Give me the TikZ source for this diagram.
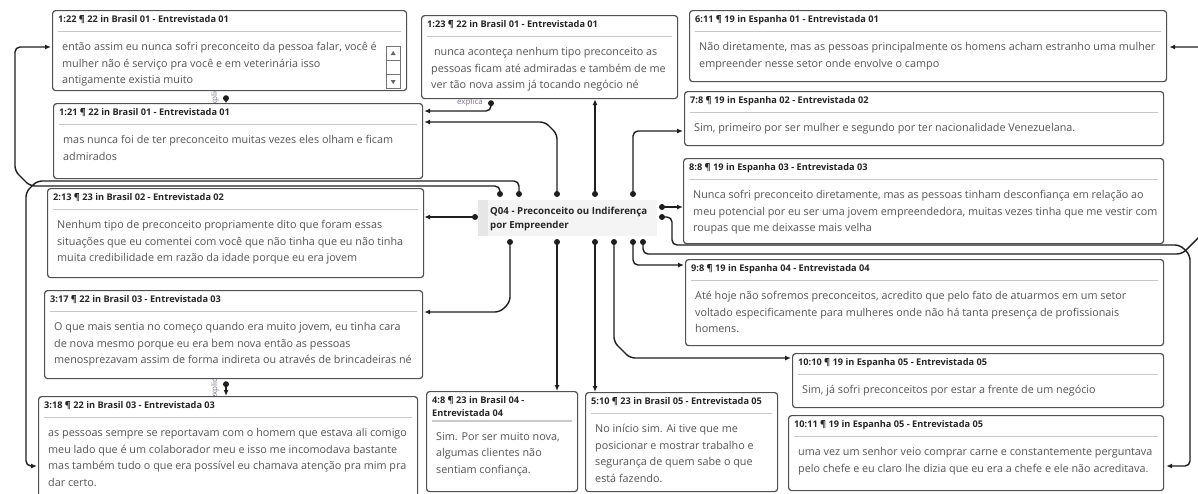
\documentclass[tikz,border=0pt]{standalone}
\usepackage{fontspec}
\setmainfont{Open Sans}
\usetikzlibrary{arrows.meta,positioning,calc}
\definecolor{quotetext}{RGB}{85,85,85}
\definecolor{quoteframe}{RGB}{80,80,80}
\definecolor{quoterule}{RGB}{200,200,200}
\definecolor{linkline}{RGB}{30,30,30}
\definecolor{codebg}{RGB}{244,244,244}
\definecolor{codestrip}{RGB}{230,230,230}
\definecolor{linkgray}{RGB}{125,115,135}
\pgfdeclarelayer{background}
\pgfsetlayers{background,main}
\tikzset{
    quotebox/.style={draw=quoteframe, line width=1.2pt, rounded corners=3pt, fill=white, anchor=north west, inner sep=0pt},
    quotehead/.style={anchor=north west, inner sep=0pt, align=left, text=black!85, font=\fontsize{9.2}{12.5}\selectfont\bfseries},
    quotebody/.style={anchor=north west, inner sep=0pt, align=left, text=quotetext, font=\fontsize{10.8}{16.5}\selectfont},
    headrule/.style={draw=quoterule, line width=1.5pt},
    codebox/.style={fill=codebg, anchor=north west, inner sep=0pt, minimum width=179pt, minimum height=36pt},
    codetext/.style={anchor=north west, inner sep=0pt, align=left, text=black!85, font=\fontsize{9.7}{14}\selectfont\bfseries},
    linkdot/.style={circle, fill=linkline, inner sep=0pt, minimum size=6pt},
    linkarrow/.style={-{Latex[length=6pt, width=5pt]}, draw=linkline, line width=1.4pt, rounded corners=5pt},
    linklabel/.style={font=\fontsize{8}{8}\selectfont, text=linkgray, inner sep=0pt},
    scrollpart/.style={draw=black!55, line width=0.8pt, fill=white}
}
\newcommand{\quotecard}[7]{%
    \node[quotebox, minimum width=#4pt, minimum height=#5pt] (#1) at (#2,#3) {};
    \node[quotehead] (#1-head) at ($(#1.north west)+(6,4)$) {\strut #6};
    \draw[headrule] ($(#1-head.south -| #1.west)+(6,4.5)$) -- ($(#1-head.south -| #1.east)+(-6,4.5)$);
    \node[quotebody] (#1-text) at ($(#1-head.south -| #1.west)+(10,12)$) {\strut #7};
}

\begin{document}
\begin{tikzpicture}[x=1pt, y=-1pt]
    \useasboundingbox (0,0) rectangle (1198,493);

    % Brasil quotations
    \quotecard{br1a}{52}{10}{354}{80}{1:22 ¶ 22 in Brasil 01 - Entrevistada 01}{então assim eu nunca sofri preconceito da pessoa falar, você é\\mulher não é serviço pra você e em veterinária isso\\antigamente existia muito}
    \quotecard{br1b}{53}{103}{369}{75}{1:21 ¶ 22 in Brasil 01 - Entrevistada 01}{mas nunca foi de ter preconceito muitas vezes eles olham e ficam\\admirados}
    \quotecard{br2}{47}{188}{376}{89}{2:13 ¶ 23 in Brasil 02 - Entrevistada 02}{Nenhum tipo de preconceito propriamente dito que foram essas\\situações que eu comentei com você que não tinha que eu não tinha\\muita credibilidade em razão da idade porque eu era jovem}
    \quotecard{br3a}{44}{290}{378}{88}{3:17 ¶ 22 in Brasil 03 - Entrevistada 03}{O que mais sentia no começo quando era muito jovem, eu tinha cara\\de nova mesmo porque eu era bem nova então as pessoas\\menosprezavam assim de forma indireta ou através de brincadeiras né}
    \quotecard{br3b}{38}{396}{379}{110}{3:18 ¶ 22 in Brasil 03 - Entrevistada 03}{as pessoas sempre se reportavam com o homem que estava ali comigo\\meu lado que é um colaborador meu e isso me incomodava bastante\\mas também tudo o que era possível eu chamava atenção pra mim pra\\dar certo.}
    \quotecard{br1c}{421}{15}{256}{83}{1:23 ¶ 22 in Brasil 01 - Entrevistada 01}{\ nunca aconteça nenhum tipo preconceito as\\pessoas ficam até admiradas e também de me\\ver tão nova assim já tocando negócio né}
    \quotecard{br4}{426}{391}{151}{100}{4:8 ¶ 23 in Brasil 04 -\\Entrevistada 04}{Sim. Por ser muito nova,\\algumas clientes não\\sentiam confiança.}
    \quotecard{br5}{585}{392}{192}{99}{5:10 ¶ 23 in Brasil 05 - Entrevistada 05}{No início sim. Ai tive que me\\posicionar e mostrar trabalho e\\segurança de quem sabe o que\\está fazendo.}

    % Espanha quotations
    \quotecard{es1}{689}{10}{477}{71}{6:11 ¶ 19 in Espanha 01 - Entrevistada 01}{Não diretamente, mas as pessoas principalmente os homens acham estranho uma mulher\\empreender nesse setor onde envolve o campo}
    \quotecard{es2}{684}{91}{479}{54}{7:8 ¶ 19 in Espanha 02 - Entrevistada 02}{Sim, primeiro por ser mulher e segundo por ter nacionalidade Venezuelana.}
    \quotecard{es3}{683}{158}{480}{85}{8:8 ¶ 19 in Espanha 03 - Entrevistada 03}{Nunca sofri preconceito diretamente, mas as pessoas tinham desconfiança em relação ao\\meu potencial por eu ser uma jovem empreendedora, muitas vezes tinha que me vestir com\\roupas que me deixasse mais velha}
    \quotecard{es4}{685}{259}{478}{86}{9:8 ¶ 19 in Espanha 04 - Entrevistada 04}{Até hoje não sofremos preconceitos, acredito que pelo fato de atuarmos em um setor\\voltado especificamente para mulheres onde não há tanta presença de profissionais\\homens.}
    \quotecard{es5a}{792}{353}{371}{54}{10:10 ¶ 19 in Espanha 05 - Entrevistada 05}{Sim, já sofri preconceitos por estar a frente de um negócio}
    \quotecard{es5b}{788}{415}{375}{75}{10:11 ¶ 19 in Espanha 05 - Entrevistada 05}{uma vez um senhor veio comprar carne e constantemente perguntava\\pelo chefe e eu claro lhe dizia que eu era a chefe e ele não acreditava.}

    % scroll bar of 1:22
    \draw[scrollpart] ($(br1a.north east)+(-21,36)$) rectangle ++(14,42);
    \draw[scrollpart] ($(br1a.north east)+(-21,50)$) -- ++(14,0) ($(br1a.north east)+(-21,64)$) -- ++(14,0);
    \fill[black!60] ($(br1a.north east)+(-14,41)$) -- ++(2.5,4) -- ++(-5,0) -- cycle;
    \fill[black!60] ($(br1a.north east)+(-14,74)$) -- ++(2.5,-4) -- ++(-5,0) -- cycle;

    % code node
    \node[codebox] (q04) at (478,200) {};
    \fill[codestrip] (q04.north west) rectangle ($(q04.south west)+(10,0)$);
    \node[codetext] (q04-text) at ($(q04.north west)+(12,4)$) {\strut Q04 - Preconceito ou Indiferença\\por Empreender};

    \foreach \dotname/\dx/\dy in {t1/22/-6, t2/41/-6, t3/79/-6, t4/117/-6, t5/155/-6, r1/184/7, r2/184/17, l1/-3/17, b1/32/42, b2/79/42, b3/117/42, b4/136/42, b5/155/42, b6/165/42}
        \node[linkdot] (\dotname) at ($(q04.north west)+(\dx,\dy)$) {};

    \node[linkdot] (x1) at ($(br1c.south west)+(70,4)$) {};
    \node[linkdot] (x2) at ($(br1a.south west)+(174,7)$) {};
    \node[linkdot] (x3) at ($(br3a.south west)+(182,5)$) {};

    \begin{pgfonlayer}{background}
        \fill[white] (0,0) rectangle (1198,493);
        % links from the code
        \draw[linkarrow] (t1.center) -- (500,186) -- (30,186) -- (15,171) -- (15,47) -- ($(br1a.north west)+(-1,37)$);
        \draw[linkarrow] (t2.center) -- (519,181) -- (37,181) -- (26,192) -- (26,466) -- ($(br3b.north west)+(-1,70)$);
        \draw[linkarrow] (t3.center) -- (557,134) -- (545,122) -- ($(br1b.north east)+(1,19)$);
        \draw[linkarrow] (t4.center) -- (t4.center |- br1c.south);
        \draw[linkarrow] (t5.center) |- ($(es2.north west)+(-1,40)$);
        \draw[linkarrow] (r1.center) -- (r1.center -| es3.west);
        \draw[linkarrow] (r2.center) -- (672,217) -- (672,245) -- (1180,245) -- (1190,255) -- (1190,466) -- ($(es5b.north east)+(2,51)$);
        \draw[linkarrow] (l1.center) -- (l1.center -| br2.east);
        \draw[linkarrow] (b1.center) -- (510,302) -- (500,312) -- ($(br3a.north east)+(1,22)$);
        \draw[linkarrow] (b2.center) -- (b2.center |- br4.north);
        \draw[linkarrow] (b3.center) -- (b3.center |- br5.north);
        \draw[linkarrow] (b4.center) -- (614,342) -- (630,358) -- ($(es5a.north west)+(-1,5)$);
        \draw[linkarrow] (b5.center) |- ($(es4.north west)+(-1,6)$);
        \draw[linkarrow] (b6.center) -- (643,254) -- (1182,254) -- (1205,231) -- (1205,47) -- ($(es1.north east)+(2,37)$);
        % links between quotations
        \draw[linkarrow] (x1.center) -- (491,111) -- ($(br1b.north east)+(1,8)$);
        \node[linklabel] (x1-label) at (470,102) {explica};
        \draw[linkarrow, -{Latex[length=4pt, width=5pt]}] (x2.center) -- (x2.center |- br1b.north);
        \node[linklabel, rotate=90] (x2-label) at (215,97) {explica};
        \draw[linkarrow] (x3.center) -- (x3.center |- br3b.north);
        \node[linklabel, rotate=90] (x3-label) at (215,387) {explica};
    \end{pgfonlayer}
\end{tikzpicture}
\end{document}
